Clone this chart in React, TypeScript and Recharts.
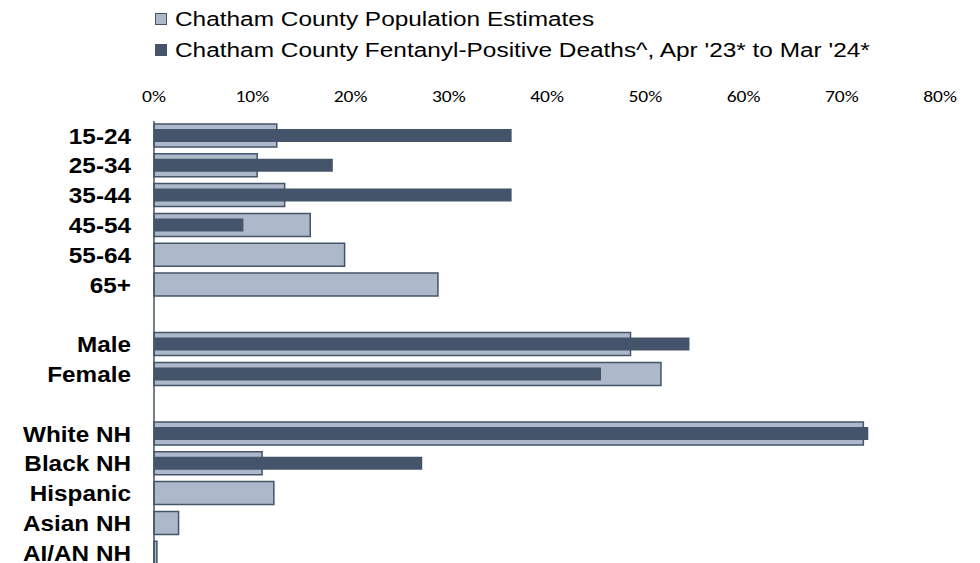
import React from "react";
import { BarChart, Bar, XAxis, YAxis } from "recharts";

// rows of the chart, blank strings are spacer rows between groups
const categories = [
  "15-24", "25-34", "35-44", "45-54", "55-64", "65+",
  "",
  "Male", "Female",
  " ",
  "White NH", "Black NH", "Hispanic", "Asian NH", "AI/AN NH",
];

const populationPct = [12.5, 10.5, 13.3, 15.9, 19.4, 28.9, null, 48.5, 51.6, null, 72.2, 11.0, 12.2, 2.5, 0.3];
const deathsPct = [36.4, 18.2, 36.4, 9.1, 0, 0, null, 54.5, 45.5, null, 72.7, 27.3, 0, 0, 0];

const xTicks = [0, 10, 20, 30, 40, 50, 60, 70, 80];

const popLabel = "Chatham County Population Estimates";
const deathsLabel = "Chatham County Fentanyl-Positive Deaths^, Apr '23* to Mar '24*";

const LIGHT = "#adb9ca";
const DARK = "#44546a";

const data = categories.map((c, i) => ({
  label: c,
  pop: populationPct[i],
  deaths: deathsPct[i],
}));

function CatTick({ x, y, payload }: any) {
  return (
    <g transform={`translate(${x},${y}) scale(1.13,1)`}>
      <text
        x={0}
        y={0}
        dy="0.36em"
        textAnchor="end"
        fontFamily="'Liberation Sans', Arial, sans-serif"
        fontWeight="bold"
        fontSize={21.5}
        fill="#000"
      >
        {String(payload.value).trim()}
      </text>
    </g>
  );
}

function PctTick({ x, y, payload }: any) {
  return (
    <g transform={`translate(${x},${y}) scale(1.15,1)`}>
      <text
        x={0}
        y={0}
        dy="0.36em"
        textAnchor="middle"
        fontFamily="Calibri, Carlito, Lato, sans-serif"
        fontSize={17}
        fill="#000"
      >
        {`${payload.value}%`}
      </text>
    </g>
  );
}

function LegendRow({ color, text, top }: { color: string; text: string; top: number }) {
  return (
    <div style={{ position: "absolute", left: 155, top, height: 24, display: "flex", alignItems: "center" }}>
      <div
        style={{
          width: 10,
          height: 10,
          background: color,
          border: `1px solid ${DARK}`,
          marginRight: 8,
        }}
      />
      <div
        style={{
          fontFamily: "'Liberation Sans', Arial, sans-serif",
          fontSize: 20,
          color: "#000",
          whiteSpace: "nowrap",
          transform: "scaleX(1.22)",
          transformOrigin: "left center",
        }}
      >
        {text}
      </div>
    </div>
  );
}

export default function App() {
  return (
    <div
      style={{
        position: "absolute",
        left: 0,
        top: 0,
        width: 980,
        height: 563,
        overflow: "hidden",
        background: "#fff",
      }}
    >
      <LegendRow color={LIGHT} text={popLabel} top={7} />
      <LegendRow color={DARK} text={deathsLabel} top={38} />
      <div style={{ position: "absolute", left: 0, top: 0 }}>
        <BarChart
          width={980}
          height={575}
          data={data}
          layout="vertical"
          margin={{ top: 91, right: 40, bottom: 7, left: 0 }}
        >
          <XAxis
            type="number"
            orientation="top"
            domain={[0, 80]}
            ticks={xTicks}
            height={30}
            axisLine={false}
            tickLine={false}
            tickSize={0}
            tickMargin={25}
            tick={<PctTick />}
            interval={0}
          />
          <YAxis
            yAxisId="pop"
            type="category"
            dataKey="label"
            width={154}
            axisLine={{ stroke: DARK, strokeWidth: 1.5 }}
            tickLine={false}
            tickSize={0}
            tickMargin={23}
            tick={<CatTick />}
            interval={0}
          />
          <YAxis yAxisId="deaths" type="category" dataKey="label" width={0} hide />
          <Bar
            yAxisId="pop"
            dataKey="pop"
            name={popLabel}
            fill={LIGHT}
            stroke={DARK}
            strokeWidth={1.5}
            barSize={23}
            isAnimationActive={false}
          />
          <Bar
            yAxisId="deaths"
            dataKey="deaths"
            name={deathsLabel}
            fill={DARK}
            barSize={13}
            isAnimationActive={false}
          />
        </BarChart>
      </div>
    </div>
  );
}
